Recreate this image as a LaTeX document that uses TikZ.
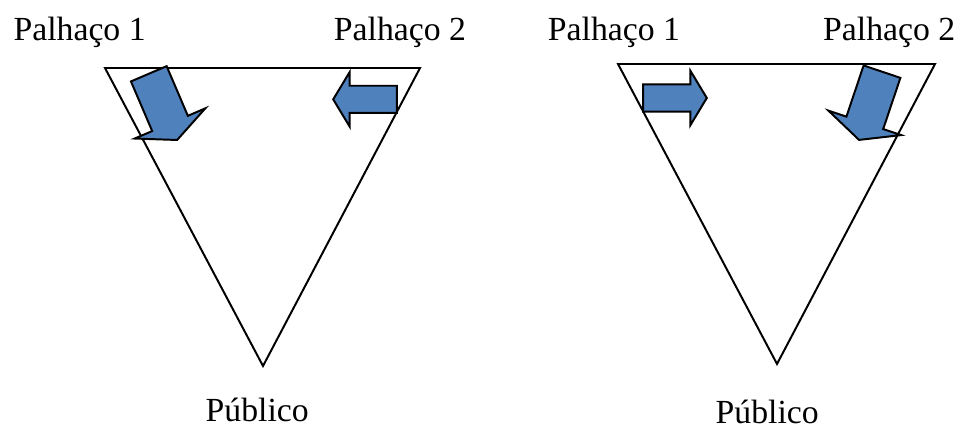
\documentclass[tikz,border=0pt]{standalone}
\usepackage{fontspec}
\setmainfont{Liberation Serif}

\definecolor{setaazul}{RGB}{79,129,189}

% seta de bloco: cauda, angulo, comprimento, corpo, ponta, comprimento da ponta
\newcommand{\palhacoseta}[6]{%
  \begin{scope}[shift={#1},rotate=#2]
    \draw[bloco] (0,#4/2) -- (#3-#6,#4/2) -- (#3-#6,#5/2) -- (#3,0)
      -- (#3-#6,-#5/2) -- (#3-#6,-#4/2) -- (0,-#4/2) -- cycle;
  \end{scope}}

\tikzset{
  palco/.style={line width=1.4pt, line join=miter},
  bloco/.style={fill=setaazul, draw=black, line width=1.4pt, line join=miter},
  rotulo/.style={anchor=base, inner sep=0pt, font=\fontsize{24}{28}\selectfont}
}

\begin{document}
\begin{tikzpicture}

            \useasboundingbox (0,0) rectangle (24,10.75);

            % palco da esquerda
            \coordinate (e1) at (2.625,9.05);
            \coordinate (e2) at (10.5,9.05);
            \coordinate (e3) at (6.575,1.6);
            \draw[palco] (e1) -- (e2) -- (e3) -- cycle;

            % palco da direita
            \coordinate (d1) at (15.45,9.15);
            \coordinate (d2) at (23.375,9.15);
            \coordinate (d3) at (19.425,1.65);
            \draw[palco] (d1) -- (d2) -- (d3) -- cycle;

            % setas
            \palhacoseta{(3.72,8.905)}{-66.85}{1.8}{0.97}{1.92}{0.45}
            \palhacoseta{(9.92,8.266)}{180}{1.59}{0.68}{1.36}{0.41}

            \palhacoseta{(16.08,8.3)}{0}{1.59}{0.68}{1.36}{0.41}
            \palhacoseta{(22.05,8.958)}{-108.6}{1.8}{0.97}{1.92}{0.45}

            % nomes
            \node[rotulo] (p1e) at (1.99,9.725) {Palhaço 1};
            \node[rotulo] (p2e) at (10.0,9.725) {Palhaço 2};
            \node[rotulo] (p1d) at (15.35,9.725) {Palhaço 1};
            \node[rotulo] (p2d) at (22.23,9.725) {Palhaço 2};

            \node[rotulo] (pube) at (6.43,0.2) {Público};
            \node[rotulo] (pubd) at (19.18,0.17) {Público};

        \end{tikzpicture}
\end{document}
